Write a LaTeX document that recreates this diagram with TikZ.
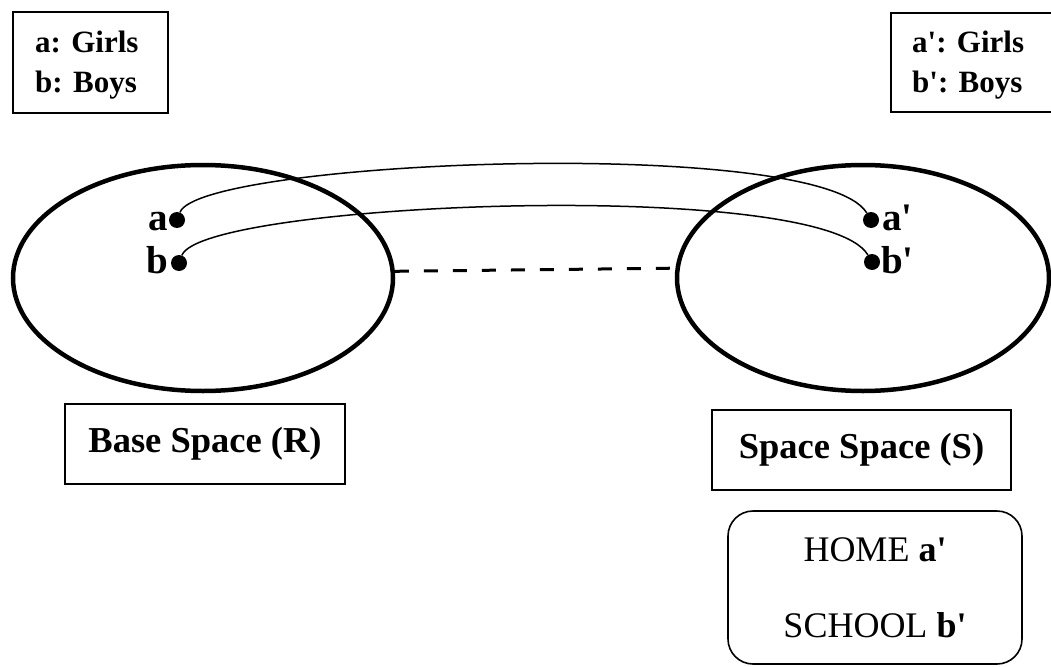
\documentclass[tikz,border=0pt]{standalone}
\usepackage{fontspec}
\setmainfont{Liberation Serif}[Ligatures=TeXOff]
\usetikzlibrary{shapes.geometric}
\begin{document}
\begin{tikzpicture}[x=1pt,y=-1pt,
  box/.style={draw, line width=1.6pt, inner sep=0pt},
  space/.style={draw, ellipse, line width=4.5pt, inner sep=0pt, minimum width=380pt, minimum height=226pt},
  dot/.style={circle, fill, inner sep=0pt, minimum size=16pt},
  lbl/.style={font=\fontsize{39}{40}\selectfont\bfseries, inner sep=0pt},
  keytext/.style={font=\fontsize{31}{40}\selectfont\bfseries, inner sep=0pt},
  titletext/.style={font=\fontsize{36.5}{40}\selectfont\bfseries},
  link/.style={line width=1.5pt},
  gap/.style={line width=3pt, dash pattern=on 14pt off 15pt}]
\useasboundingbox (0,0) rectangle (1051,666);
% key boxes
\node[box, minimum width=155pt, minimum height=101pt] (key1) at (90.5,62.5) {};
\node[keytext, anchor=base west] (key1a) at (35,53) {a: Girls};
\node[keytext, anchor=base west] (key1b) at (35,93) {b: Boys};
\node[box, minimum width=169pt, minimum height=99pt] (key2) at (975.5,62.5) {};
\node[keytext, anchor=base west] (key2a) at (912,53) {a': Girls};
\node[keytext, anchor=base west] (key2b) at (912,93) {b': Boys};
% spaces
\node[space] (R) at (203,278) {};
\node[space, minimum width=372pt] (S) at (863,278) {};
% points
\node[dot] (a) at (177,220) {};
\node[dot] (b) at (179,263) {};
\node[dot] (ap) at (871,220) {};
\node[dot] (bp) at (872,262) {};
\node[lbl, anchor=base east] (la) at (168,230) {a};
\node[lbl, anchor=base east] (lb) at (168,273) {b};
\node[lbl, anchor=base west] (lap) at (882,230) {a'};
\node[lbl, anchor=base west] (lbp) at (881,273) {b'};
% connectors
\draw[link] (a) .. controls (200,160) and (820,135) .. (ap);
\draw[link] (b) .. controls (202,202) and (822,177) .. (bp);
\draw[gap] (R.2.4) -- (S.177.5);
% titles
\node[box, titletext, minimum width=280pt, minimum height=80pt] (baseR) at (205,444) {Base Space (R)};
\node[box, titletext, minimum width=299pt, minimum height=80pt] (spaceS) at (861.5,450) {Space Space (S)};
\node[box, rounded corners=25pt, minimum width=294pt, minimum height=153pt,
      font=\fontsize{36}{76}\selectfont, align=center] (home) at (875,587.5)
      {HOME \textbf{a'}\\SCHOOL \textbf{b'}};
\end{tikzpicture}
\end{document}
